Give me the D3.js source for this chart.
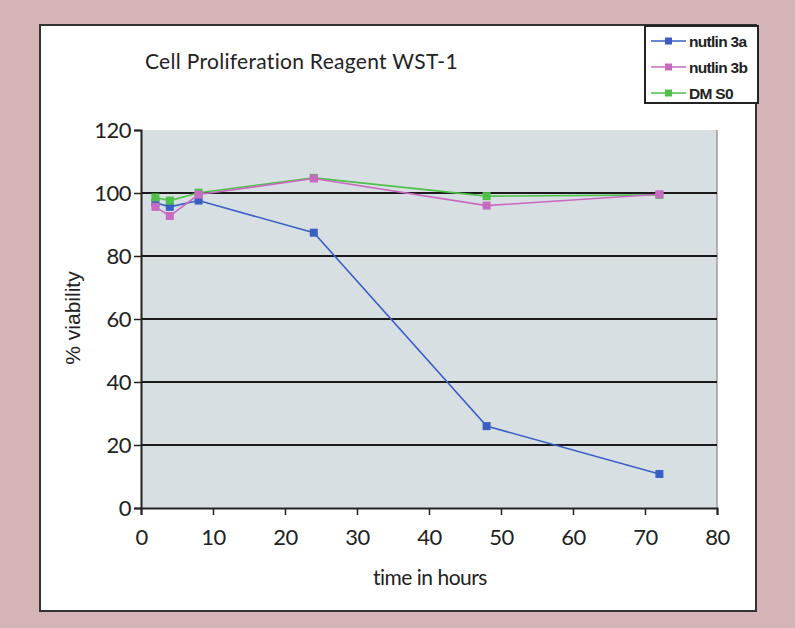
<!DOCTYPE html>
<html>
<head>
<meta charset="utf-8">
<script src="https://cdn.jsdelivr.net/npm/d3@7"></script>
<style>
  body { margin: 0; background: #d4b4b7; }
  svg { display: block; }
</style>
</head>
<body>
<svg id="chart" width="795" height="628"></svg>
<script>
var hours = [2, 4, 8, 24, 48, 72];
var nutlin3a = [96.9, 95.6, 97.6, 87.4, 26, 10.8];
var nutlin3b = [95.6, 92.7, 99.5, 104.6, 96, 99.6];
var dmso = [98.6, 97.6, 100.1, 104.8, 99, 99.4];
var seriesNames = ["nutlin 3a", "nutlin 3b", "DM S0"];
var seriesColors = ["#3a5fc4", "#c86ac0", "#4fc04a"];
var xTicks = [0, 10, 20, 30, 40, 50, 60, 70, 80];
var yTicks = [0, 20, 40, 60, 80, 100, 120];

var svg = d3.select("#chart");
var plotLeft = 141, plotRight = 717, plotTop = 130, plotBottom = 508;

// white panel
svg.append("rect")
  .attr("x", 40).attr("y", 25)
  .attr("width", 716).attr("height", 586)
  .style("fill", "#ffffff")
  .style("stroke", "#333")
  .style("stroke-width", 2);

var x = d3.scaleLinear().domain([0, 80]).range([plotLeft, plotRight]);
var y = d3.scaleLinear().domain([0, 120]).range([plotBottom, plotTop]);

svg.append("rect")
  .attr("x", plotLeft).attr("y", plotTop)
  .attr("width", plotRight - plotLeft).attr("height", plotBottom - plotTop)
  .style("fill", "#d8dfe3");

svg.append("line")
  .attr("x1", plotRight).attr("x2", plotRight)
  .attr("y1", plotTop).attr("y2", plotBottom)
  .style("stroke", "#9a9a9a")
  .style("stroke-width", 1.5);

// gridlines
svg.append("g").selectAll("line")
  .data(yTicks.filter(function(d) { return d > 0 && d < 120; }))
  .enter().append("line")
  .attr("x1", plotLeft).attr("x2", plotRight)
  .attr("y1", function(d) { return y(d); })
  .attr("y2", function(d) { return y(d); })
  .style("stroke", "#1a1a1a")
  .style("stroke-width", 2);

var xAxis = svg.append("g")
  .attr("transform", "translate(0," + plotBottom + ")")
  .call(d3.axisBottom(x).tickValues(xTicks).tickSize(7).tickPadding(14));
var yAxis = svg.append("g")
  .attr("transform", "translate(" + plotLeft + ",0)")
  .call(d3.axisLeft(y).tickValues(yTicks).tickSize(7).tickPadding(3));

[xAxis, yAxis].forEach(function(a) {
  a.select(".domain").style("stroke", "#222").style("stroke-width", 2);
  a.selectAll(".tick line").style("stroke", "#222").style("stroke-width", 1.5);
  a.selectAll("text")
    .style("font-family", "Lato, sans-serif")
    .style("font-size", "22px")
    .style("letter-spacing", "-0.5px")
    .style("fill", "#222");
});
yAxis.selectAll("text").attr("dy", "0.36em");

var allSeries = [nutlin3a, nutlin3b, dmso];
var line = d3.line()
  .x(function(d, i) { return x(hours[i]); })
  .y(function(d) { return y(d); });

[0, 2, 1].forEach(function(s) {
  var g = svg.append("g");
  g.append("path")
    .attr("d", line(allSeries[s]))
    .style("fill", "none")
    .style("stroke", seriesColors[s])
    .style("stroke-width", 1.6);
  g.selectAll("rect")
    .data(allSeries[s])
    .enter().append("rect")
    .attr("x", function(d, i) { return x(hours[i]) - 4; })
    .attr("y", function(d) { return y(d) - 4; })
    .attr("width", 8).attr("height", 8)
    .style("fill", seriesColors[s]);
});

svg.append("text")
  .attr("x", 145).attr("y", 69)
  .attr("font-family", "Lato, sans-serif")
  .attr("font-size", 21)
  .attr("letter-spacing", "0.3px")
  .attr("fill", "#222")
  .text("Cell Proliferation Reagent WST-1");

svg.append("text")
  .attr("x", 430).attr("y", 585)
  .attr("text-anchor", "middle")
  .attr("font-family", "Lato, sans-serif")
  .attr("font-size", 21)
  .attr("letter-spacing", "-0.5px")
  .attr("fill", "#222")
  .text("time in hours");

svg.append("text")
  .attr("transform", "translate(80,318) rotate(-90)")
  .attr("text-anchor", "middle")
  .attr("font-family", "Liberation Sans, Arial, sans-serif")
  .attr("font-size", 21)
  .attr("fill", "#222")
  .text("% viability");

// legend
var legend = svg.append("g");
legend.append("rect")
  .attr("x", 645).attr("y", 26)
  .attr("width", 113).attr("height", 77)
  .style("fill", "#ffffff")
  .style("stroke", "#222")
  .style("stroke-width", 2);
seriesNames.forEach(function(name, i) {
  var ly = 41 + i * 26;
  legend.append("line")
    .attr("x1", 651).attr("x2", 686)
    .attr("y1", ly).attr("y2", ly)
    .style("stroke", seriesColors[i])
    .style("stroke-width", 1.6);
  legend.append("rect")
    .attr("x", 665).attr("y", ly - 3.5)
    .attr("width", 7).attr("height", 7)
    .style("fill", seriesColors[i]);
  legend.append("text")
    .attr("x", 689).attr("y", ly + 6)
    .attr("font-family", "Liberation Sans, Arial, sans-serif")
    .attr("font-weight", "bold")
    .attr("font-size", 15.5)
    .attr("letter-spacing", "-0.7px")
    .attr("fill", "#222")
    .text(name);
});
</script>
</body>
</html>
